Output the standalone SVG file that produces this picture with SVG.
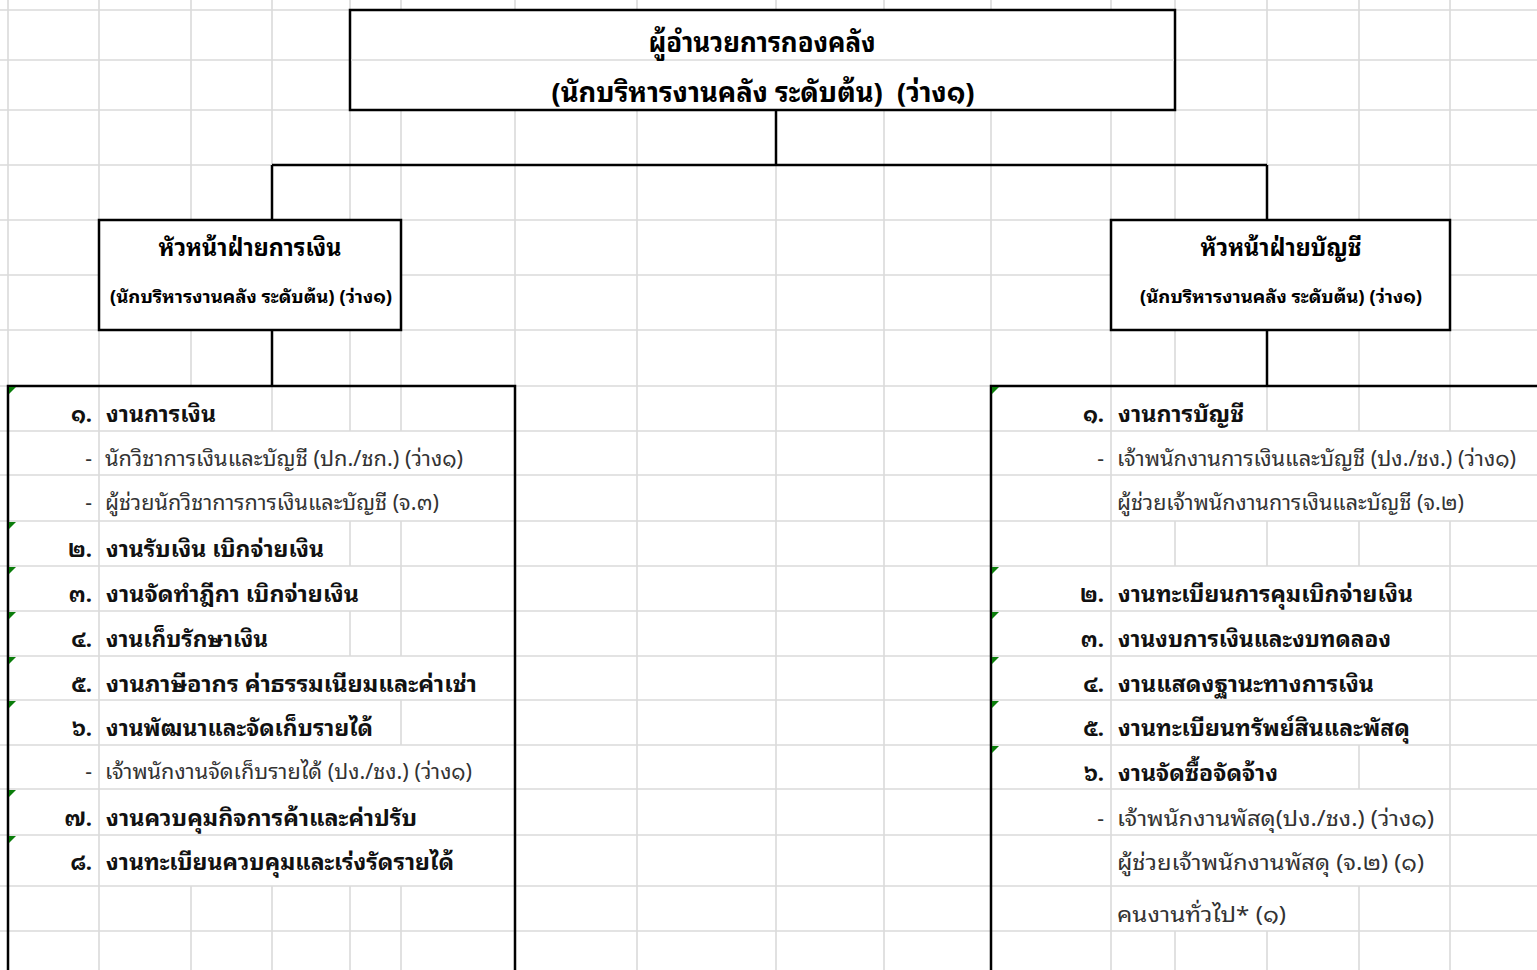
<svg xmlns="http://www.w3.org/2000/svg" width="1537" height="970" viewBox="0 0 1537 970">
<style>
.grid{stroke:#dadada;stroke-width:1.6;fill:none}
.blk{stroke:#000;stroke-width:2.5;fill:none}
.box{stroke:#000;stroke-width:2.5;fill:#fff}
.tri{fill:#0a7d0a}
text{font-family:"Noto Sans Thai Looped","Noto Sans Thai","Noto Sans","DejaVu Sans",sans-serif}
.t1{font-size:27px;font-weight:bold;fill:#000;text-anchor:middle}
.t2{font-size:24px;font-weight:bold;fill:#000;text-anchor:middle}
.t3{font-size:18px;font-weight:bold;fill:#000;text-anchor:middle}
.b{font-size:22px;font-weight:bold;fill:#111}
.n{font-size:22px;font-weight:bold;fill:#111;text-anchor:end}
.r{font-size:21px;fill:#333}
.d{font-size:21px;fill:#333;text-anchor:end}
</style>
<rect width="1537" height="970" fill="#fff"/>
<g id="grid">
<path class="grid" d="M0 10H350M1175 10H1537M0 60H1537M0 110H350M1175 110H1537M0 165H272M1267 165H1537M0 220H99M401 220H1111M1450 220H1537M0 275H99M401 275H1111M1450 275H1537M0 330H99M401 330H1111M1450 330H1537M0 386H8M515 386H991M0 431H1537M0 475H1537M0 521H1537M0 566H1537M0 611H1537M0 656H1537M0 700H1537M0 745H1537M0 789H1537M0 835H1537M0 886H1537M0 931H1537"/>
<path class="grid" d="M8 0V386M99 0V220M99 330V970M191 0V220M191 330V386M191 886V970M272 0V165M272 386V431M272 886V970M350 0V10M350 110V220M350 330V431M350 521V566M350 611V656M350 886V970M401 0V10M401 110V220M401 330V431M401 521V656M401 700V745M401 886V970M515 0V10M515 110V386M637 0V10M637 110V970M776 0V10M776 165V970M884 0V10M884 110V970M991 0V10M991 110V386M1111 0V10M1111 110V220M1111 330V970M1175 0V10M1175 110V220M1175 330V386M1175 521V566M1175 931V970M1267 0V165M1267 386V431M1267 521V566M1267 931V970M1359 0V220M1359 330V431M1359 521V566M1359 745V789M1359 886V970M1450 0V220M1450 330V431M1450 521V970"/>
</g>
<g id="connectors">
<path class="blk" d="M776 110V165M272 165H1267M272 165V220M1267 165V220M272 330V386M1267 330V386"/>
</g>
<g id="director">
<rect class="box" x="350" y="10" width="825" height="100" fill="none"/>
<line class="grid" x1="351" y1="60" x2="1174" y2="60"/>
<text class="t1" x="762" y="52" textLength="227" lengthAdjust="spacingAndGlyphs">ผู้อำนวยการกองคลัง</text>
<text class="t1" x="763" y="102" textLength="423" lengthAdjust="spacingAndGlyphs" xml:space="preserve">(นักบริหารงานคลัง ระดับต้น)  (ว่าง๑)</text>
</g>
<g id="finance-head">
<rect class="box" x="99" y="220" width="302" height="110"/>
<text class="t2" x="250" y="256" textLength="183" lengthAdjust="spacingAndGlyphs">หัวหน้าฝ่ายการเงิน</text>
<text class="t3" x="251" y="303" textLength="282" lengthAdjust="spacingAndGlyphs">(นักบริหารงานคลัง ระดับต้น) (ว่าง๑)</text>
</g>
<g id="account-head">
<rect class="box" x="1111" y="220" width="339" height="110"/>
<text class="t2" x="1281" y="256" textLength="161" lengthAdjust="spacingAndGlyphs">หัวหน้าฝ่ายบัญชี</text>
<text class="t3" x="1281" y="303" textLength="282" lengthAdjust="spacingAndGlyphs">(นักบริหารงานคลัง ระดับต้น) (ว่าง๑)</text>
</g>
<g id="finance-tasks">
<path class="blk" d="M8 972V386H515V972"/>
<polygon class="tri" points="9,387 16,387 9,394"/>
<polygon class="tri" points="9,522 16,522 9,529"/>
<polygon class="tri" points="9,567 16,567 9,574"/>
<polygon class="tri" points="9,612 16,612 9,619"/>
<polygon class="tri" points="9,657 16,657 9,664"/>
<polygon class="tri" points="9,701 16,701 9,708"/>
<polygon class="tri" points="9,790 16,790 9,797"/>
<polygon class="tri" points="9,836 16,836 9,843"/>
<text class="n" x="92" y="422">๑.</text><text class="b" x="106" y="422" textLength="110" lengthAdjust="spacingAndGlyphs">งานการเงิน</text>
<text class="d" x="92" y="466">-</text><text class="r" x="105" y="466" textLength="358" lengthAdjust="spacingAndGlyphs">นักวิชาการเงินและบัญชี (ปก./ชก.) (ว่าง๑)</text>
<text class="d" x="92" y="510">-</text><text class="r" x="105" y="510" textLength="334" lengthAdjust="spacingAndGlyphs">ผู้ช่วยนักวิชาการการเงินและบัญชี (จ.๓)</text>
<text class="n" x="92" y="557">๒.</text><text class="b" x="106" y="557" textLength="218" lengthAdjust="spacingAndGlyphs">งานรับเงิน เบิกจ่ายเงิน</text>
<text class="n" x="92" y="602">๓.</text><text class="b" x="106" y="602" textLength="253" lengthAdjust="spacingAndGlyphs">งานจัดทำฎีกา เบิกจ่ายเงิน</text>
<text class="n" x="92" y="647">๔.</text><text class="b" x="106" y="647" textLength="162" lengthAdjust="spacingAndGlyphs">งานเก็บรักษาเงิน</text>
<text class="n" x="92" y="692">๕.</text><text class="b" x="106" y="692" textLength="371" lengthAdjust="spacingAndGlyphs">งานภาษีอากร ค่าธรรมเนียมและค่าเช่า</text>
<text class="n" x="92" y="736">๖.</text><text class="b" x="106" y="736" textLength="267" lengthAdjust="spacingAndGlyphs">งานพัฒนาและจัดเก็บรายได้</text>
<text class="d" x="92" y="779">-</text><text class="r" x="105" y="779" textLength="367" lengthAdjust="spacingAndGlyphs">เจ้าพนักงานจัดเก็บรายได้ (ปง./ชง.) (ว่าง๑)</text>
<text class="n" x="92" y="826">๗.</text><text class="b" x="106" y="826" textLength="311" lengthAdjust="spacingAndGlyphs">งานควบคุมกิจการค้าและค่าปรับ</text>
<text class="n" x="92" y="870">๘.</text><text class="b" x="106" y="870" textLength="348" lengthAdjust="spacingAndGlyphs">งานทะเบียนควบคุมและเร่งรัดรายได้</text>
</g>
<g id="account-tasks">
<path class="blk" d="M991 972V386H1537"/>
<polygon class="tri" points="992,387 999,387 992,394"/>
<polygon class="tri" points="992,567 999,567 992,574"/>
<polygon class="tri" points="992,612 999,612 992,619"/>
<polygon class="tri" points="992,657 999,657 992,664"/>
<polygon class="tri" points="992,701 999,701 992,708"/>
<polygon class="tri" points="992,746 999,746 992,753"/>
<text class="n" x="1104" y="422">๑.</text><text class="b" x="1118" y="422" textLength="126" lengthAdjust="spacingAndGlyphs">งานการบัญชี</text>
<text class="d" x="1104" y="466">-</text><text class="r" x="1117" y="466" textLength="399" lengthAdjust="spacingAndGlyphs">เจ้าพนักงานการเงินและบัญชี (ปง./ชง.) (ว่าง๑)</text>
<text class="r" x="1117" y="510" textLength="347" lengthAdjust="spacingAndGlyphs">ผู้ช่วยเจ้าพนักงานการเงินและบัญชี (จ.๒)</text>
<text class="n" x="1104" y="602">๒.</text><text class="b" x="1118" y="602" textLength="295" lengthAdjust="spacingAndGlyphs">งานทะเบียนการคุมเบิกจ่ายเงิน</text>
<text class="n" x="1104" y="647">๓.</text><text class="b" x="1118" y="647" textLength="273" lengthAdjust="spacingAndGlyphs">งานงบการเงินและงบทดลอง</text>
<text class="n" x="1104" y="692">๔.</text><text class="b" x="1118" y="692" textLength="256" lengthAdjust="spacingAndGlyphs">งานแสดงฐานะทางการเงิน</text>
<text class="n" x="1104" y="736">๕.</text><text class="b" x="1118" y="736" textLength="292" lengthAdjust="spacingAndGlyphs">งานทะเบียนทรัพย์สินและพัสดุ</text>
<text class="n" x="1104" y="781">๖.</text><text class="b" x="1118" y="781" textLength="160" lengthAdjust="spacingAndGlyphs">งานจัดซื้อจัดจ้าง</text>
<text class="d" x="1104" y="826">-</text><text class="r" x="1117" y="826" textLength="317" lengthAdjust="spacingAndGlyphs">เจ้าพนักงานพัสดุ(ปง./ชง.) (ว่าง๑)</text>
<text class="r" x="1117" y="870" textLength="307" lengthAdjust="spacingAndGlyphs">ผู้ช่วยเจ้าพนักงานพัสดุ (จ.๒) (๑)</text>
<text class="r" x="1117" y="922" textLength="169" lengthAdjust="spacingAndGlyphs">คนงานทั่วไป* (๑)</text>
</g>
</svg>
